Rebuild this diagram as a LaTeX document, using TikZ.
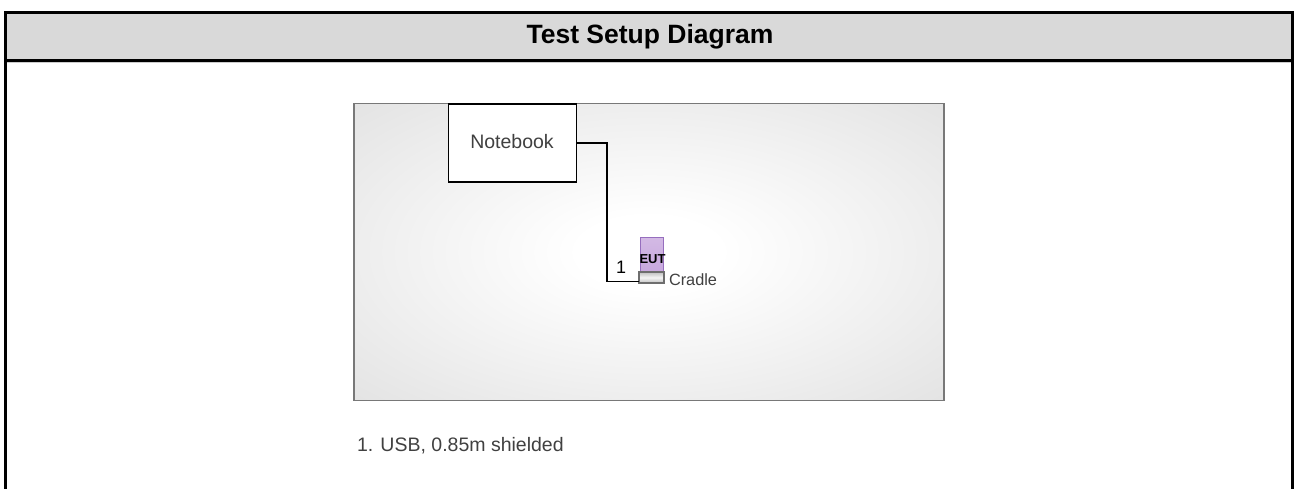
\documentclass[tikz,border=0pt]{standalone}
\usepackage{fontspec}
\setmainfont{Liberation Sans}
\usetikzlibrary{positioning}
\definecolor{hdrgray}{RGB}{217,217,217}
\definecolor{paneledge}{RGB}{214,214,214}
\definecolor{panelcorner}{RGB}{198,198,198}
\definecolor{panelline}{RGB}{120,120,120}
\definecolor{txtgray}{RGB}{64,64,64}
\definecolor{eutfill}{RGB}{200,168,222}
\definecolor{eutline}{RGB}{150,110,190}
\definecolor{cradleline}{RGB}{110,110,110}
\pgfdeclareradialshading{panelshade}{\pgfpoint{0bp}{0bp}}{color(0bp)=(white); color(6bp)=(white); color(50bp)=(paneledge); color(72bp)=(panelcorner)}
\tikzset{
  frameline/.style={line width=3pt, black},
  box/.style={draw=black, line width=1.3pt, fill=white, inner sep=0pt, outer sep=0pt},
  wire/.style={draw=black, line width=1.3pt},
  lbl/.style={inner sep=0pt, outer sep=0pt, text=txtgray},
}
\begin{document}
\begin{tikzpicture}[x=1pt,y=-1pt]
\useasboundingbox (0,0) rectangle (1294,489);
% header
\fill[hdrgray] (5.5,12.5) rectangle (1292.5,60.5);
\draw[gray!40, line width=1pt] (7,62.5) -- (1291,62.5);
\draw[frameline] (5.5,489) -- (5.5,12.5) -- (1292.5,12.5) -- (1292.5,489);
\draw[frameline] (5.5,60.5) -- (1292.5,60.5);
\node[inner sep=0pt, font=\fontsize{26.5}{28}\selectfont\bfseries] (title) at (650,37) {Test Setup Diagram};
% panel
\node[draw=panelline, line width=1.5pt, shading=panelshade, minimum width=590pt, minimum height=297pt, inner sep=0pt, outer sep=0pt] (panel) at (649,252) {};
% notebook
\node[box, minimum width=128pt, minimum height=78pt] (nb) at (512.5,143) {};
\node[lbl, font=\fontsize{19.5}{21}\selectfont] (nbtext) at (512,142) {Notebook};
% EUT and cradle
\node[draw=eutline, line width=1pt, top color=eutfill!80, bottom color=eutfill, minimum width=23pt, minimum height=34pt, inner sep=0pt, outer sep=0pt] (eut) at (651.5,255) {};
\node[inner sep=0pt, font=\fontsize{13}{14}\selectfont\bfseries, text=black] (euttext) at (652.5,259) {EUT};
\node[draw=cradleline, line width=1.2pt, top color=gray!50, bottom color=gray!50, middle color=gray!8, minimum width=25pt, minimum height=11pt, inner sep=0pt, outer sep=0pt] (cradle) at (651.5,277.5) {};
\node[lbl, anchor=west, font=\fontsize{16.3}{18}\selectfont] (cradletext) at (669,280) {Cradle};
% wire
\coordinate (w1) at (607,143);
\coordinate (w2) at (639,281.5);
\draw[wire] (nb.east) -- (w1) |- (w2);
\node[lbl, font=\fontsize{18}{20}\selectfont, text=black] (one) at (621,267) {1};
% note
\node[lbl, anchor=west, font=\fontsize{19.5}{21}\selectfont] (note) at (357,446) {1. USB, 0.85m shielded};
\end{tikzpicture}
\end{document}
